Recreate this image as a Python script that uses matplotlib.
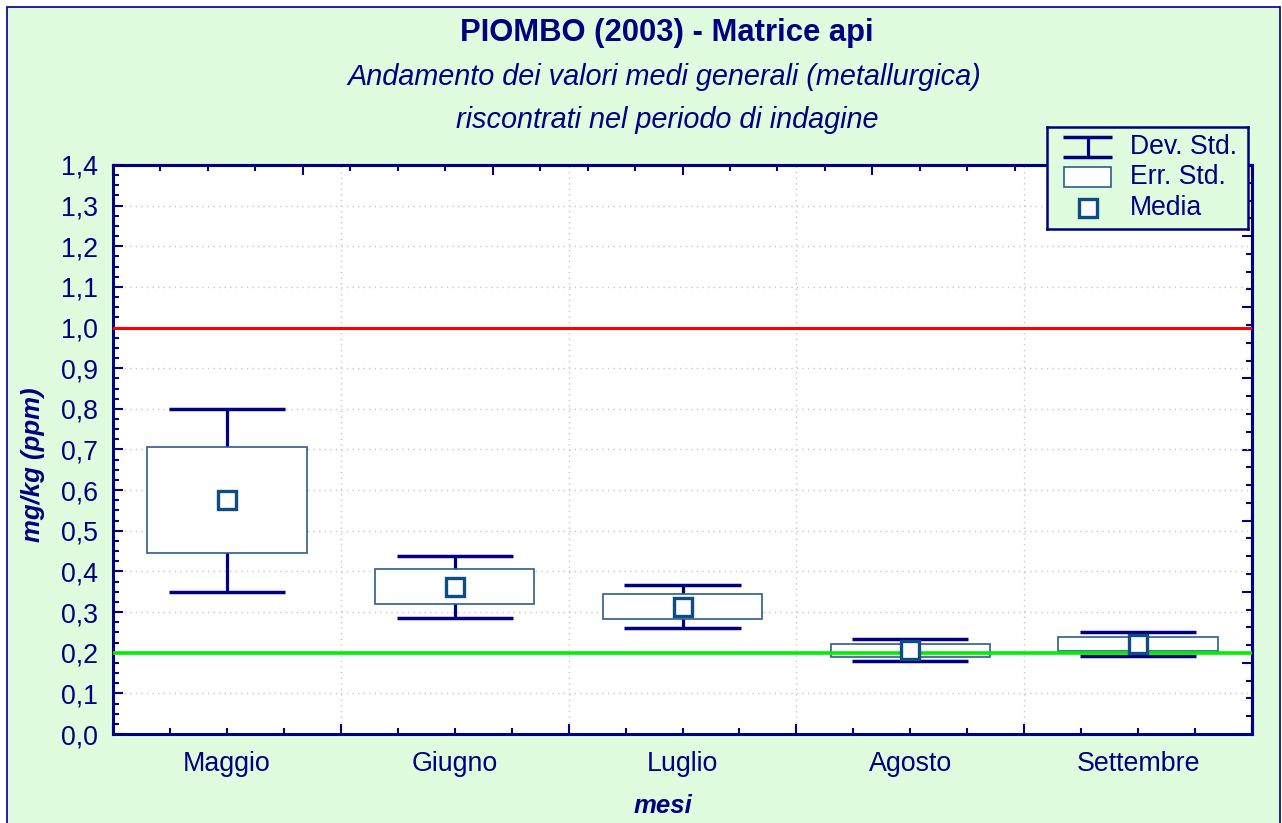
import matplotlib
matplotlib.use("Agg")
import matplotlib.pyplot as plt
import matplotlib.ticker as mticker
from matplotlib.patches import Rectangle

plt.rcParams["font.family"] = ["Liberation Sans", "DejaVu Sans"]

# ── data ──────────────────────────────────────────────────────
months = ["Maggio", "Giugno", "Luglio", "Agosto", "Settembre"]
media = [0.575, 0.362, 0.313, 0.206, 0.222]
dev_std = [0.225, 0.076, 0.053, 0.027, 0.029]
err_std = [0.130, 0.043, 0.031, 0.016, 0.017]
limit_high = 1.0
limit_low = 0.2

NAVY = "#000080"
BG = "#DFFCDF"
BOX_EDGE = "#2D5C8C"
MARK = "#0E4C84"
FS = 19.3

W, H = 1282, 823
fig = plt.figure(figsize=(W / 100, H / 100), dpi=100, facecolor="white")

# green frame behind everything
fig.patches.append(Rectangle((7 / W, -0.05), (1280 - 7) / W, 1.05 - 7 / H,
                             transform=fig.transFigure, facecolor=BG,
                             edgecolor=NAVY, linewidth=1.2, zorder=-10))

ax = fig.add_axes([113 / W, 1 - 734 / H, (1252 - 113) / W, (734 - 165) / H])
ax.set_facecolor("white")

x = list(range(len(months)))
lo_dev = [m - d for m, d in zip(media, dev_std)]
hi_dev = [m + d for m, d in zip(media, dev_std)]

# ── Dev. Std. whiskers ────────────────────────────────────────
ax.vlines(x, lo_dev, hi_dev, color=NAVY, linewidth=2.3, zorder=3)
ax.hlines(lo_dev, [i - 0.255 for i in x], [i + 0.255 for i in x], color=NAVY, linewidth=2.5, zorder=3)
ax.hlines(hi_dev, [i - 0.255 for i in x], [i + 0.255 for i in x], color=NAVY, linewidth=2.5, zorder=3)

# ── Err. Std. boxes ───────────────────────────────────────────
ax.bar(x, [2 * e for e in err_std], bottom=[m - e for m, e in zip(media, err_std)],
       width=0.70, facecolor="white", edgecolor=BOX_EDGE, linewidth=1.2, zorder=4)

# ── reference lines ───────────────────────────────────────────
ax.axhline(limit_high, color="#FF0000", linewidth=2.2, zorder=5)
ax.axhline(limit_low, color="#00EE00", linewidth=2.6, zorder=5)

# ── Media markers ─────────────────────────────────────────────
ax.plot(x, media, linestyle="none", marker="s", markersize=13, markerfacecolor="white",
        markeredgecolor=MARK, markeredgewidth=2.4, zorder=6)

# ── axes styling ──────────────────────────────────────────────
ax.set_xlim(-0.5, len(months) - 0.5)
ax.set_ylim(0, 1.4)
ax.yaxis.set_major_locator(mticker.MultipleLocator(0.1))
ax.yaxis.set_minor_locator(mticker.MultipleLocator(0.025))
ax.yaxis.set_major_formatter(mticker.FuncFormatter(lambda v, _: f"{v:.1f}".replace(".", ",")))

ax.xaxis.set_major_locator(mticker.FixedLocator([i - 0.5 for i in range(len(months) + 1)]))
ax.xaxis.set_major_formatter(mticker.NullFormatter())
ax.xaxis.set_minor_locator(mticker.FixedLocator([i + q for i in x for q in (-0.25, 0, 0.25)]))
ax.xaxis.set_minor_formatter(mticker.FuncFormatter(
    lambda v, _: months[int(round(v))] if abs(v - round(v)) < 1e-6 else ""))

ax.tick_params(axis="both", which="both", direction="in", color=NAVY, labelcolor=NAVY,
               labelsize=FS, width=1.5)
ax.tick_params(axis="y", which="major", length=7, pad=11)
ax.tick_params(axis="y", which="minor", length=4)
ax.tick_params(axis="x", which="major", length=7)
ax.tick_params(axis="x", which="minor", length=4, pad=12)

ax.grid(True, axis="y", which="major", color="#C8C8C8", linestyle=(0, (1, 3)), linewidth=1)
ax.grid(True, axis="x", which="major", color="#C8C8C8", linestyle=(0, (1, 3)), linewidth=1)
ax.set_axisbelow(True)
for s in ax.spines.values():
    s.set_color(NAVY)
    s.set_linewidth(2.2)

# top / right scales with their own tick spacing, no labels
top = ax.secondary_xaxis("top", functions=(lambda v: (v + 0.5) * 6 / 5, lambda v: v * 5 / 6 - 0.5))
top.xaxis.set_major_locator(mticker.MultipleLocator(1))
top.xaxis.set_minor_locator(mticker.MultipleLocator(0.25))
top.tick_params(which="both", direction="in", color=NAVY, labeltop=False, width=1.5)
top.tick_params(which="major", length=7)
top.tick_params(which="minor", length=4)
top.spines["top"].set_color(NAVY)
top.spines["top"].set_linewidth(2.2)

right = ax.secondary_yaxis("right", functions=(lambda v: v / 1.4 * 8, lambda v: v * 1.4 / 8))
right.yaxis.set_major_locator(mticker.MultipleLocator(1))
right.yaxis.set_minor_locator(mticker.MultipleLocator(0.25))
right.tick_params(which="both", direction="in", color=NAVY, labelright=False, width=1.5)
right.tick_params(which="major", length=7)
right.tick_params(which="minor", length=4)
right.spines["right"].set_color(NAVY)
right.spines["right"].set_linewidth(2.2)

# ── titles and labels ─────────────────────────────────────────
fig.text(667 / W, 1 - 33 / H, "PIOMBO (2003) - Matrice api", ha="center", va="center",
         fontsize=22.3, fontweight="bold", color=NAVY)
fig.text(664 / W, 1 - 77 / H, "Andamento dei valori medi generali (metallurgica)",
         ha="center", va="center", fontsize=20.8, style="italic", color=NAVY)
fig.text(667 / W, 1 - 120 / H, "riscontrati nel periodo di indagine",
         ha="center", va="center", fontsize=20.8, style="italic", color=NAVY)
fig.text(33 / W, 1 - 465 / H, "mg/kg (ppm)", ha="center", va="center", rotation=90,
         fontsize=18.5, fontweight="bold", style="italic", color=NAVY)
fig.text(663 / W, 1 - 806 / H, "mesi", ha="center", va="center",
         fontsize=18.5, fontweight="bold", style="italic", color=NAVY)

# ── legend box ────────────────────────────────────────────────
leg = fig.add_axes([1047 / W, 1 - 229 / H, 201 / W, 102 / H])
leg.set_facecolor(BG)
leg.set_xlim(0, 201)
leg.set_ylim(102, 0)
leg.set_xticks([])
leg.set_yticks([])
for s in leg.spines.values():
    s.set_color(NAVY)
    s.set_linewidth(1.8)
leg.hlines([10, 30], 16, 65, color=NAVY, linewidth=2.5)
leg.vlines(40.5, 10, 30, color=NAVY, linewidth=2.3)
leg.add_patch(Rectangle((17, 40), 47, 20, facecolor="white", edgecolor=BOX_EDGE, linewidth=1.2))
leg.plot([41], [81], marker="s", markersize=13, markerfacecolor="white",
         markeredgecolor=MARK, markeredgewidth=2.4)
for ty, lab in zip([20, 50, 81], ["Dev. Std.", "Err. Std.", "Media"]):
    leg.text(83, ty, lab, ha="left", va="center", fontsize=19.2, color=NAVY)

fig.savefig("out.png", dpi=100, facecolor="white")
